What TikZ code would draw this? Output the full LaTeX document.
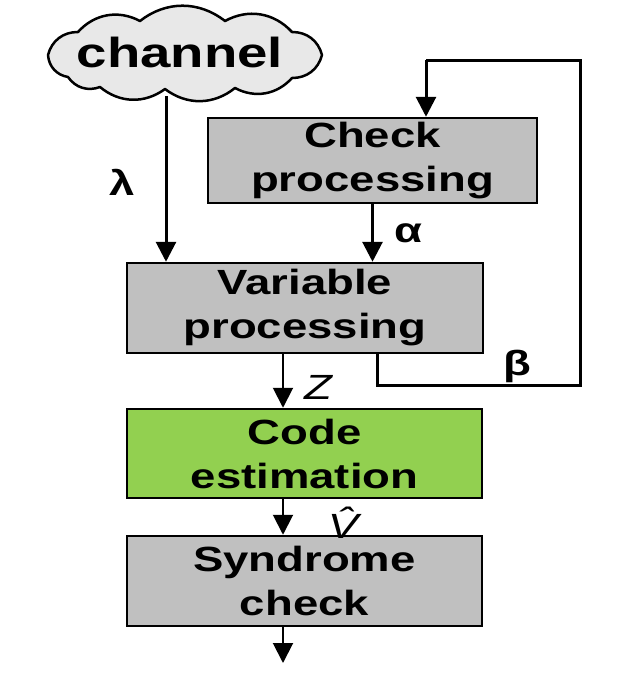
\documentclass[tikz,border=0pt]{standalone}
\usepackage{fontspec}
\setmainfont{Liberation Sans}[FakeStretch=1.3]
\usetikzlibrary{arrows.meta}
\definecolor{boxgray}{RGB}{192,192,192}
\definecolor{boxgreen}{RGB}{146,208,80}
\definecolor{cloudgray}{RGB}{232,232,232}
\begin{document}
\begin{tikzpicture}[x=1pt,y=-1pt,
  blk/.style={draw=black, line width=2.5pt, fill=boxgray, rectangle, inner sep=0pt,
    align=center, font=\fontsize{35}{44}\selectfont\bfseries},
  arr/.style={line width=3pt, -{Triangle[length=20pt,width=20pt]}},
  arrthin/.style={line width=2pt, -{Triangle[length=20pt,width=20pt]}},
  glab/.style={font=\fontsize{35}{35}\selectfont\bfseries},
  ilab/.style={font=\fontsize{35}{35}\selectfont\itshape},
  puff/.style={bend left=38}]
\useasboundingbox (0,0) rectangle (636,675);
\fill[white] (0,0) rectangle (636,675);

% cloud outline
\draw[line width=2.5pt, fill=cloudgray, line join=round]
  (48,55) to[puff] (78,32) to[puff] (140,21) to[puff] (225,21) to[puff] (292,32)
  to[puff] (322,55) to[puff] (292,78) to[puff] (235,88) to[puff] (165,89)
  to[puff] (100,87) to[puff] (68,77) to[puff] cycle;
\node[font=\fontsize{42}{42}\selectfont\bfseries, inner sep=0pt] (cloud) at (180,52) {channel};

\node[blk, minimum width=329pt, minimum height=85pt] (check) at (372.5,160.5) {Check\\processing};
\node[blk, minimum width=356pt, minimum height=90pt] (var) at (305,308) {Variable\\processing};
\node[blk, fill=boxgreen, minimum width=355pt, minimum height=89pt] (code) at (304.5,453.5) {Code\\estimation};
\node[blk, minimum width=355pt, minimum height=90pt] (syn) at (304.5,581) {Syndrome\\check};

\coordinate (cbot) at (166,96);
\coordinate (zx) at (283,0);
\coordinate (lp0) at (377,385);
\coordinate (lp1) at (580,385);
\coordinate (lp2) at (580,60);
\coordinate (lp3) at (426,60);
\coordinate (out) at (283,663);

\draw[arr] (cbot) -- (var.north -| cbot);
\draw[arr] (check.south) -- (check.south |- var.north);
\draw[line width=3pt] (var.south -| lp0) -- (lp0) -- (lp1) -- (lp2) -- (lp3);
\draw[arr] (lp3) -- (check.north -| lp3);
\draw[arrthin] (var.south -| zx) -- (code.north -| zx);
\draw[arrthin] (code.south -| zx) -- (syn.north -| zx);
\draw[arrthin] (syn.south -| zx) -- (out);

\node[glab] (lam) at (122,182) {λ};
\node[glab] (alp) at (408,233) {α};
\node[glab] (bet) at (517,366) {β};
\node[ilab] (zl) at (318,387) {Z};
\node[ilab] (vl) at (343,523) {\^{V}};
\end{tikzpicture}
\end{document}
